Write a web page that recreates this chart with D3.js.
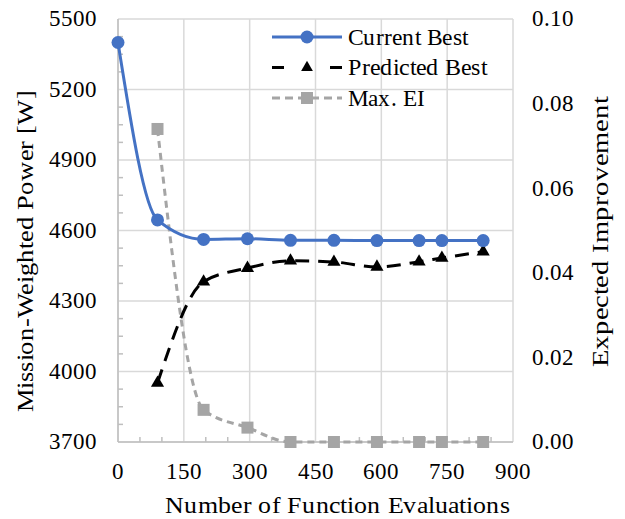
<!DOCTYPE html>
<html>
<head>
<meta charset="utf-8">
<script src="https://cdn.jsdelivr.net/npm/d3@7"></script>
<style>
@font-face {
  font-family: "ChartSerif";
  src: local("Liberation Serif"), local("LiberationSerif"), local("LiberationSerif-Regular"), local("Liberation Serif Regular");
}
#fig text { font-family: "ChartSerif", "Liberation Serif", "Times New Roman", serif; }
</style>
</head>
<body style="margin:0">
<svg id="fig" width="625" height="519" style="display:block" font-family="Liberation Serif"></svg>
<script>
// ---- data ----
const evals = [0, 90, 195, 295, 393, 492, 590, 686, 738, 832];
const currentBest = [5400, 4645, 4562, 4565, 4558, 4558, 4557, 4557, 4557, 4557];
const predictedBest = [null, 3951, 4382, 4440, 4471, 4466, 4445, 4467, 4483, 4510];
const maxEI = [null, 0.074, 0.0076, 0.0034, 0, 0, 0, 0, 0, 0];
const xTicks = [0, 150, 300, 450, 600, 750, 900];
const yLeftTicks = [3700, 4000, 4300, 4600, 4900, 5200, 5500];
const yRightTicks = [0.00, 0.02, 0.04, 0.06, 0.08, 0.10];
const seriesNames = ["Current Best", "Predicted Best", "Max. EI"];

const FONT = '"ChartSerif", "Liberation Serif", "Times New Roman", serif';

// ---- layout ----
const svg = d3.select("#fig");
const L = 118, R = 513, T = 19, B = 442;
const x = d3.scaleLinear().domain([0, 900]).range([L, R]);
const yL = d3.scaleLinear().domain([3700, 5500]).range([B, T]);
const yR = d3.scaleLinear().domain([0, 0.10]).range([B, T]);

const gridColor = "#d9d9d9";
const grid = svg.append("g");
grid.selectAll("line.v").data(xTicks).join("line")
  .attr("x1", d => x(d)).attr("x2", d => x(d)).attr("y1", T).attr("y2", B)
  .attr("stroke", gridColor).attr("stroke-width", 1.5);
grid.selectAll("line.h").data(yLeftTicks).join("line")
  .attr("x1", L).attr("x2", R).attr("y1", d => yL(d)).attr("y2", d => yL(d))
  .attr("stroke", gridColor).attr("stroke-width", 1.5);

svg.append("line").attr("x1", L).attr("x2", L).attr("y1", T).attr("y2", B)
  .attr("stroke", "#bfbfbf").attr("stroke-width", 1.5);
svg.append("line").attr("x1", L).attr("x2", R).attr("y1", B).attr("y2", B)
  .attr("stroke", "#bfbfbf").attr("stroke-width", 1.5);
const xMinor = d3.range(0, 901, 50).filter(v => v % 150 !== 0);
svg.append("g").selectAll("line").data(xMinor).join("line")
  .attr("x1", d => x(d)).attr("x2", d => x(d)).attr("y1", B).attr("y2", B - 5)
  .attr("stroke", "#bfbfbf").attr("stroke-width", 1.5);
const yMinor = d3.range(3700, 5501, 75).filter(v => (v - 3700) % 300 !== 0);
svg.append("g").selectAll("line").data(yMinor).join("line")
  .attr("x1", L).attr("x2", L + 5).attr("y1", d => yL(d)).attr("y2", d => yL(d))
  .attr("stroke", "#bfbfbf").attr("stroke-width", 1.5);

// tick labels
const tickSize = 22.5;
svg.append("g").selectAll("text").data(yLeftTicks).join("text")
  .attr("x", 97).attr("y", d => yL(d)).attr("dy", "0.33em")
  .attr("text-anchor", "end").attr("font-size", tickSize)
  .attr("font-family", "Liberation Serif").style("font-family", FONT)
  .text(d => d);
svg.append("g").selectAll("text").data(yRightTicks).join("text")
  .attr("x", 532).attr("y", d => yR(d)).attr("dy", "0.33em")
  .attr("text-anchor", "start").attr("font-size", tickSize)
  .attr("font-family", "Liberation Serif").style("font-family", FONT)
  .text(d => d.toFixed(2));
svg.append("g").selectAll("text").data(xTicks).join("text")
  .attr("x", d => x(d)).attr("y", 472).attr("dy", "0.33em")
  .attr("text-anchor", "middle").attr("font-size", tickSize)
  .attr("font-family", "Liberation Serif").style("font-family", FONT)
  .text(d => d);

// axis titles
svg.append("text").attr("x", 165).attr("y", 513)
  .attr("font-size", 23).attr("font-family", "Liberation Serif").style("font-family", FONT)
  .attr("textLength", 345).attr("lengthAdjust", "spacingAndGlyphs")
  .text("Number of Function Evaluations");
svg.append("text").attr("transform", "translate(33,412) rotate(-90)")
  .attr("font-size", 23).attr("font-family", "Liberation Serif").style("font-family", FONT)
  .attr("textLength", 322).attr("lengthAdjust", "spacingAndGlyphs")
  .text("Mission-Weighted Power [W]");
svg.append("text").attr("transform", "translate(608,367) rotate(-90)")
  .attr("font-size", 23).attr("font-family", "Liberation Serif").style("font-family", FONT)
  .attr("textLength", 270).attr("lengthAdjust", "spacingAndGlyphs")
  .text("Expected Improvement");

// series
const curve = d3.curveMonotoneX;
const blue = "#4472C4", gray = "#A5A5A5";

const cbPts = evals.map((e, i) => [e, currentBest[i]]);
const pbPts = evals.map((e, i) => [e, predictedBest[i]]).filter(p => p[1] !== null);
const eiPts = evals.map((e, i) => [e, maxEI[i]]).filter(p => p[1] !== null);

const lineL = d3.line().x(d => x(d[0])).y(d => yL(d[1])).curve(curve);
const lineR = d3.line().x(d => x(d[0])).y(d => yR(d[1])).curve(curve);

svg.append("path").attr("d", lineR(eiPts)).attr("fill", "none")
  .attr("stroke", gray).attr("stroke-width", 3).attr("stroke-dasharray", "7,5");
const sq = 12;
svg.append("g").selectAll("rect").data(eiPts).join("rect")
  .attr("x", d => x(d[0]) - sq / 2).attr("y", d => yR(d[1]) - sq / 2)
  .attr("width", sq).attr("height", sq).attr("fill", gray);

svg.append("path").attr("d", lineL(pbPts)).attr("fill", "none")
  .attr("stroke", "#000").attr("stroke-width", 3).attr("stroke-dasharray", "14,9");
const tri = d3.symbol().type(d3.symbolTriangle).size(75);
svg.append("g").selectAll("path").data(pbPts).join("path")
  .attr("d", tri).attr("transform", d => `translate(${x(d[0])},${yL(d[1])})`)
  .attr("fill", "#000");

svg.append("path").attr("d", lineL(cbPts)).attr("fill", "none")
  .attr("stroke", blue).attr("stroke-width", 3);
svg.append("g").selectAll("circle").data(cbPts).join("circle")
  .attr("cx", d => x(d[0])).attr("cy", d => yL(d[1])).attr("r", 6.5).attr("fill", blue);

// legend
const lg = svg.append("g");
const lx0 = 272, lx1 = 342, lm = 307, ltx = 348;
const rows = [37, 67.5, 98];
const legendW = [120, 139, 77];
lg.append("line").attr("x1", lx0).attr("x2", lx1).attr("y1", rows[0]).attr("y2", rows[0])
  .attr("stroke", blue).attr("stroke-width", 3);
lg.append("circle").attr("cx", lm).attr("cy", rows[0]).attr("r", 6.5).attr("fill", blue);
lg.append("line").attr("x1", lx0).attr("x2", lx1).attr("y1", rows[1]).attr("y2", rows[1])
  .attr("stroke", "#000").attr("stroke-width", 3).attr("stroke-dasharray", "12,46,12");
lg.append("path").attr("d", d3.symbol().type(d3.symbolTriangle).size(60))
  .attr("transform", `translate(${lm},${rows[1]})`).attr("fill", "#000");
lg.append("line").attr("x1", lx0).attr("x2", lx1).attr("y1", rows[2]).attr("y2", rows[2])
  .attr("stroke", gray).attr("stroke-width", 3).attr("stroke-dasharray", "8,5");
lg.append("rect").attr("x", lm - 6).attr("y", rows[2] - 6).attr("width", 12).attr("height", 12)
  .attr("fill", gray);
lg.selectAll("text").data(seriesNames).join("text")
  .attr("x", ltx).attr("y", (d, i) => rows[i]).attr("dy", "0.33em")
  .attr("font-size", 23).attr("font-family", "Liberation Serif").style("font-family", FONT)
  .attr("textLength", (d, i) => legendW[i]).attr("lengthAdjust", "spacingAndGlyphs")
  .text(d => d);
</script>
</body>
</html>
